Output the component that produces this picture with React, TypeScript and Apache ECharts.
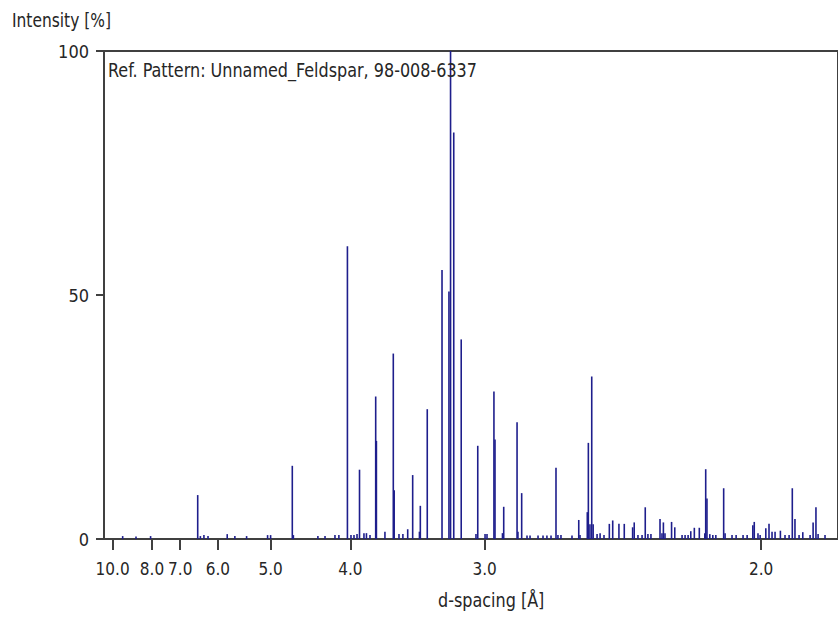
import React, { useEffect, useRef } from "react";
import * as echarts from "echarts";

// Reference pattern sticks: position (2θ, Cu Kα1) and relative intensity [%]
const twoTheta = [
  9.40, 10.15, 10.97, 13.62, 13.77, 13.97, 14.20, 15.28, 15.71, 16.37,
  17.55, 17.72, 18.94, 19.00, 20.38, 20.78, 21.34, 21.56, 22.04, 22.24,
  22.41, 22.58, 22.72, 22.97, 23.11, 23.31, 23.63, 23.67, 24.15, 24.62,
  24.67, 24.94, 25.16, 25.43, 25.71, 26.09, 26.14, 26.53, 27.36, 27.75,
  27.84, 28.02, 28.44, 29.27, 29.37, 29.78, 29.89, 30.28, 30.34, 30.76,
  30.83, 31.58, 31.63, 31.84, 32.14, 32.31, 32.76, 33.04, 33.26, 33.49,
  33.77, 33.88, 34.05, 34.67, 35.05, 35.12, 35.53, 35.59, 35.68, 35.78,
  35.86, 36.08, 36.25, 36.47, 36.77, 36.96, 37.31, 37.61, 38.08, 38.17,
  38.38, 38.61, 38.79, 38.94, 39.11, 39.62, 39.73, 39.81, 39.90, 40.27,
  40.45, 40.86, 41.03, 41.20, 41.35, 41.55, 41.83, 42.14, 42.19, 42.26,
  42.42, 42.59, 42.76, 43.20, 43.28, 43.67, 43.90, 44.29, 44.52, 44.84,
  44.92, 45.13, 45.25, 45.57, 45.75, 45.92, 46.09, 46.39, 46.65, 46.88,
  47.06, 47.21, 47.44, 47.65, 48.06, 48.23, 48.39, 48.51, 48.90,
];
const intensity = [
  0.6, 0.5, 0.6, 9.0, 0.6, 0.8, 0.6, 1.0, 0.6, 0.6,
  0.8, 0.8, 15.0, 0.8, 0.6, 0.6, 0.8, 0.8, 60.0, 0.8,
  0.8, 1.0, 14.2, 1.2, 1.2, 0.8, 29.2, 20.1, 1.5, 38.0,
  10.0, 1.0, 1.0, 2.0, 13.1, 1.5, 6.8, 26.6, 55.1, 50.7,
  100.0, 83.3, 40.9, 1.0, 19.1, 1.0, 1.0, 30.2, 20.4, 1.2,
  6.6, 23.9, 1.5, 9.4, 0.7, 0.7, 0.7, 0.7, 0.7, 0.7,
  14.6, 0.8, 0.8, 0.7, 3.9, 0.8, 5.5, 19.7, 3.0, 33.3,
  3.0, 1.0, 1.2, 0.8, 3.1, 3.8, 3.1, 3.1, 2.4, 3.4,
  0.8, 0.8, 6.5, 1.0, 1.0, 4.1, 1.2, 3.4, 1.2, 3.5,
  2.4, 0.8, 0.8, 0.8, 1.6, 2.3, 2.3, 1.2, 14.3, 8.3,
  1.0, 0.8, 0.8, 10.4, 1.2, 0.8, 0.8, 0.8, 0.8, 2.8,
  3.5, 1.2, 0.8, 2.2, 3.1, 1.5, 1.5, 1.7, 0.8, 0.8,
  10.4, 4.1, 0.8, 1.4, 0.8, 3.4, 6.5, 1.0, 0.8,
];

// d-spacing tick labels [Å]
const dTicks = [10.0, 8.0, 7.0, 6.0, 5.0, 4.0, 3.0, 2.0];
const yTicks = [0, 50, 100];

const yAxisTitle = "Intensity [%]";
const xAxisTitle = "d-spacing [Å]";
const patternTitle = "Ref. Pattern: Unnamed_Feldspar, 98-008-6337";

const LAMBDA = 1.5406;
const dToTwoTheta = (d: number) => (2 * Math.asin(LAMBDA / (2 * d)) * 180) / Math.PI;
const twoThetaToD = (t: number) => LAMBDA / (2 * Math.sin((t * Math.PI) / 360));

const FONT = "'Liberation Sans Narrow', 'DejaVu Sans Condensed', 'Roboto', sans-serif";
const TEXT = "#262626";
const AXIS = "#404040";
const STICK = "#1e1e8c";

export default function App() {
  const ref = useRef<HTMLDivElement>(null);
  useEffect(() => {
    if (!ref.current) return;
    const chart = echarts.init(ref.current, null, { renderer: "svg" });
    const data = twoTheta.map((t, i) => [t, intensity[i]]);
    const tickPos = dTicks.map(dToTwoTheta);
    const txt = (text: string, x: number, y: number, sx: number) => ({
      type: "text",
      x,
      y,
      scaleX: sx,
      z: 10,
      style: {
        text,
        fill: TEXT,
        font: `20px ${FONT}`,
        textAlign: "left",
        textVerticalAlign: "middle",
      },
    });
    chart.setOption({
      animation: false,
      backgroundColor: "#fff",
      textStyle: { fontFamily: FONT },
      graphic: [
        txt(yAxisTitle, 12, 20, 0.86),
        txt(patternTitle, 108, 70, 0.89),
        txt(xAxisTitle, 438, 600, 0.89),
      ],
      grid: {
        left: 104,
        right: 0,
        top: 51,
        bottom: 78,
        show: true,
        borderColor: AXIS,
        borderWidth: 2,
        backgroundColor: "#fff",
      },
      xAxis: {
        type: "value",
        min: 8.35,
        max: 49.63,
        axisLine: { show: true, onZero: false, lineStyle: { color: AXIS, width: 2 } },
        axisTick: {
          show: true,
          customValues: tickPos,
          length: 11,
          lineStyle: { color: AXIS, width: 2 },
        },
        axisLabel: {
          customValues: tickPos,
          formatter: (v: number) => twoThetaToD(v).toFixed(1),
          fontFamily: FONT,
          fontSize: 17,
          color: TEXT,
          margin: 21,
          hideOverlap: false,
        },
        splitLine: { show: false },
      },
      yAxis: {
        type: "value",
        min: 0,
        max: 100,
        interval: 50,
        axisLine: { show: true, lineStyle: { color: AXIS, width: 2 } },
        axisTick: {
          show: true,
          customValues: yTicks,
          length: 8,
          lineStyle: { color: AXIS, width: 2 },
        },
        axisLabel: {
          customValues: yTicks,
          fontFamily: FONT,
          fontSize: 18,
          color: TEXT,
          margin: 15,
        },
        splitLine: { show: false },
      },
      series: [
        {
          type: "custom",
          clip: true,
          data,
          encode: { x: 0, y: 1 },
          renderItem: (params: any, api: any) => {
            const p0 = api.coord([api.value(0), 0]);
            const p1 = api.coord([api.value(0), api.value(1)]);
            return {
              type: "line",
              shape: { x1: p0[0], y1: p0[1], x2: p1[0], y2: p1[1] },
              style: { stroke: STICK, lineWidth: 1.6 },
            };
          },
        },
      ],
    });
    return () => chart.dispose();
  }, []);
  return (
    <div
      ref={ref}
      style={{ position: "fixed", left: 0, top: 0, width: 838, height: 617, background: "#fff" }}
    />
  );
}
